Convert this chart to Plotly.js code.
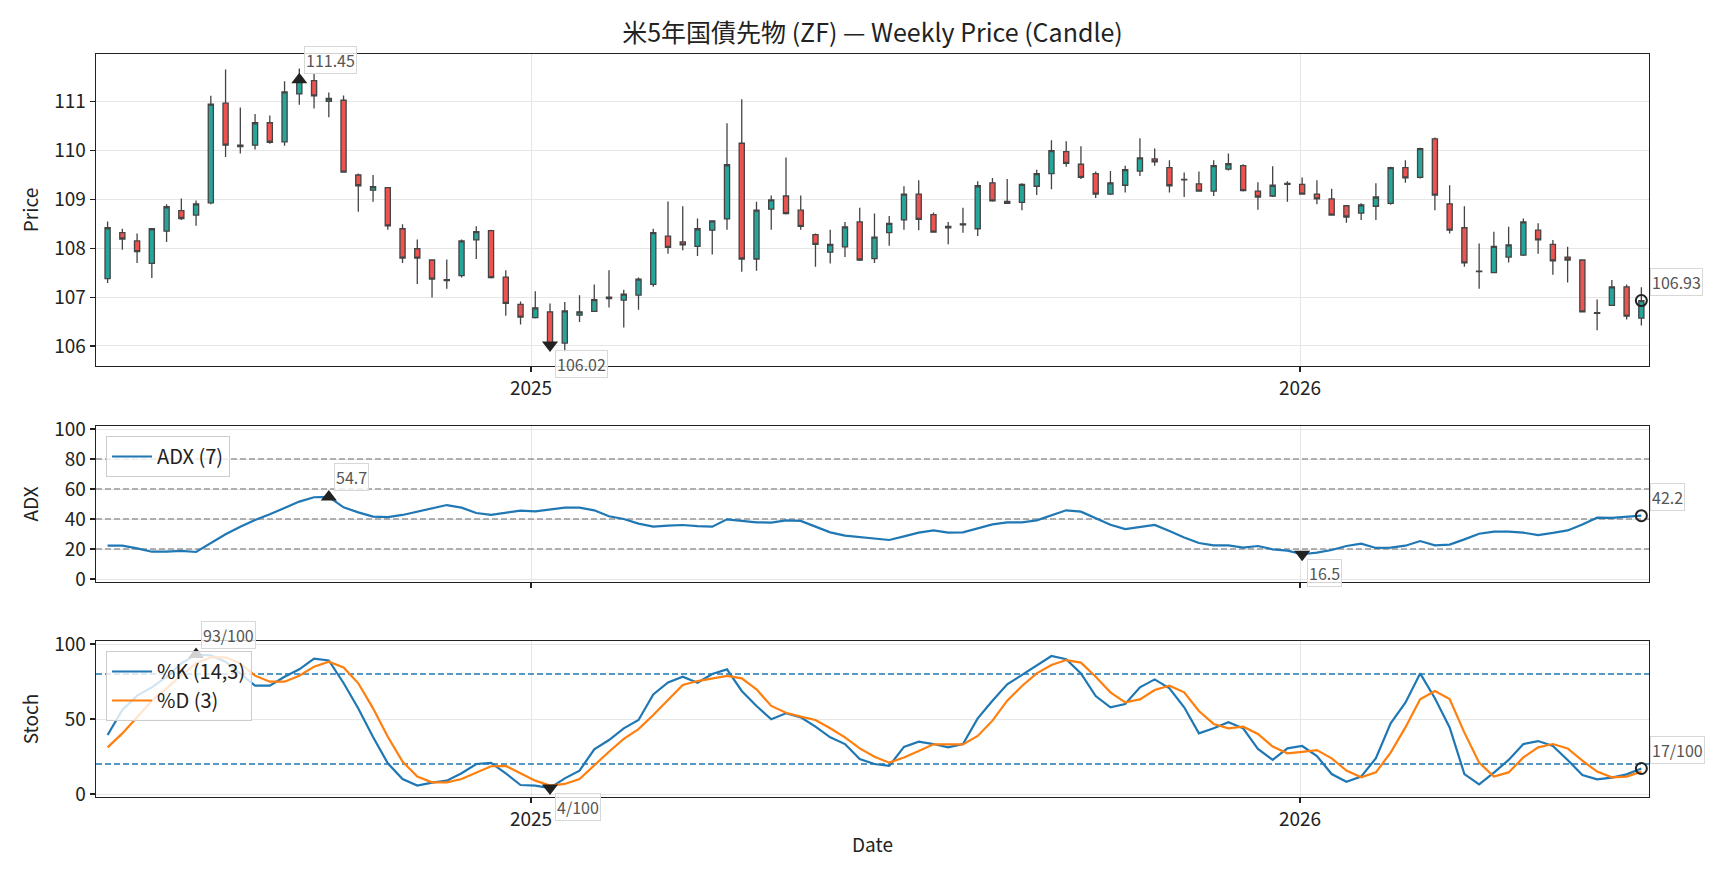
<!DOCTYPE html>
<html><head><meta charset="utf-8">
<script src="https://cdn.plot.ly/plotly-3.0.1.min.js"></script>
<style>html,body{margin:0;padding:0;background:#fff;} #chart{width:1728px;height:878px;}</style>
</head><body><div id="chart"></div>
<script>
const dates = [
'2024-06-14','2024-06-21','2024-06-28','2024-07-05','2024-07-12','2024-07-19','2024-07-26','2024-08-02','2024-08-09','2024-08-16',
'2024-08-23','2024-08-30','2024-09-06','2024-09-13','2024-09-20','2024-09-27','2024-10-04','2024-10-11','2024-10-18','2024-10-25',
'2024-11-01','2024-11-08','2024-11-15','2024-11-22','2024-11-29','2024-12-06','2024-12-13','2024-12-20','2024-12-27',
'2025-01-03','2025-01-10','2025-01-17','2025-01-24','2025-01-31','2025-02-07','2025-02-14','2025-02-21','2025-02-28','2025-03-07',
'2025-03-14','2025-03-21','2025-03-28','2025-04-04','2025-04-11','2025-04-18','2025-04-25','2025-05-02','2025-05-09','2025-05-16',
'2025-05-23','2025-05-30','2025-06-06','2025-06-13','2025-06-20','2025-06-27','2025-07-04','2025-07-11','2025-07-18','2025-07-25',
'2025-08-01','2025-08-08','2025-08-15','2025-08-22','2025-08-29','2025-09-05','2025-09-12','2025-09-19','2025-09-26','2025-10-03',
'2025-10-10','2025-10-17','2025-10-24','2025-10-31','2025-11-07','2025-11-14','2025-11-21','2025-11-28','2025-12-05','2025-12-12',
'2025-12-19','2025-12-26',
'2026-01-02','2026-01-09','2026-01-16','2026-01-23','2026-01-30','2026-02-06','2026-02-13','2026-02-20','2026-02-27','2026-03-06',
'2026-03-13','2026-03-20','2026-03-27','2026-04-03','2026-04-10','2026-04-17','2026-04-24','2026-05-01','2026-05-08','2026-05-15',
'2026-05-22','2026-05-29','2026-06-05','2026-06-12'];

const openP = [107.38,108.32,108.15,107.69,108.35,108.77,108.68,108.93,110.97,110.11,
 110.11,110.57,110.18,111.16,111.43,111.01,111.03,109.50,109.19,109.24,
 108.40,107.99,107.76,107.34,107.44,108.17,108.36,107.41,106.85,106.58,
 106.70,106.06,106.63,106.71,106.97,106.94,107.04,107.26,108.25,108.13,
 108.04,108.37,108.60,110.15,107.78,108.80,109.07,108.78,108.28,107.92,
 108.03,108.54,107.79,108.32,108.58,109.11,108.69,108.42,108.50,108.40,
 109.34,108.96,108.94,109.27,109.53,109.98,109.72,109.53,109.11,109.29,
 109.58,109.83,109.65,109.41,109.32,109.17,109.62,109.69,109.17,109.07,
 109.31,109.31,109.11,109.01,108.87,108.72,108.86,108.92,109.65,109.45,
 110.24,108.91,108.42,107.53,107.50,107.82,107.86,108.37,108.08,107.82,
 107.76,106.67,106.83,107.21,106.57];
const highP = [108.55,108.40,108.30,108.41,108.90,109.02,108.98,111.12,111.66,110.88,
 110.75,110.72,111.42,111.68,111.57,111.19,111.13,109.53,109.50,109.25,
 108.49,108.18,107.77,107.77,108.18,108.45,108.38,107.55,106.91,107.12,
 106.87,106.90,107.04,107.26,107.55,107.15,107.40,108.40,108.96,108.86,
 108.61,108.57,110.56,111.05,108.95,109.08,109.86,109.08,108.30,108.38,
 108.54,108.83,108.71,108.66,109.27,109.39,108.73,108.54,108.83,109.37,
 109.44,109.42,109.33,109.61,110.21,110.19,110.09,109.57,109.58,109.69,
 110.25,110.04,109.80,109.55,109.57,109.80,109.94,109.72,109.35,109.68,
 109.37,109.45,109.39,109.22,108.88,108.92,109.33,109.67,109.80,110.06,
 110.27,109.29,108.86,108.10,108.34,108.44,108.61,108.51,108.17,108.03,
 107.77,106.95,107.35,107.26,107.20];
const lowP = [107.29,107.97,107.70,107.39,108.13,108.58,108.46,108.90,109.87,109.94,
 110.02,110.14,110.10,110.94,110.86,110.68,109.55,108.75,108.95,108.38,
 107.70,107.27,106.99,107.17,107.40,107.78,107.38,106.62,106.44,106.56,
 105.97,105.88,106.49,106.70,106.79,106.38,106.74,107.21,107.89,107.96,
 107.84,107.87,108.38,107.52,107.54,108.38,108.69,108.38,107.62,107.69,
 107.82,107.74,107.70,108.05,108.38,108.37,108.32,108.08,108.32,108.25,
 108.95,108.92,108.78,109.09,109.21,109.67,109.42,109.03,109.09,109.14,
 109.48,109.69,109.14,109.05,109.16,109.07,109.59,109.16,108.79,109.05,
 108.95,109.10,108.90,108.67,108.52,108.58,108.58,108.89,109.34,109.43,
 108.78,108.30,107.62,107.17,107.49,107.71,107.84,107.89,107.46,107.30,
 106.69,106.32,106.82,106.54,106.42];
const closeP = [108.42,108.19,107.93,108.40,108.85,108.61,108.91,110.95,110.11,110.08,
 110.57,110.17,111.20,111.45,111.12,111.07,109.56,109.28,109.26,108.46,
 107.80,107.80,107.37,107.36,108.15,108.34,107.40,106.87,106.59,106.78,
 106.02,106.72,106.70,106.95,107.00,107.06,107.37,108.32,108.02,108.07,
 108.40,108.56,109.71,107.78,108.78,108.99,108.71,108.45,108.08,108.08,
 108.44,107.76,108.23,108.51,109.11,108.59,108.33,108.45,108.48,109.28,
 108.97,108.92,109.31,109.53,110.00,109.74,109.45,109.11,109.34,109.61,
 109.85,109.77,109.28,109.40,109.17,109.69,109.73,109.18,109.05,109.29,
 109.33,109.11,109.01,108.68,108.64,108.89,109.05,109.65,109.44,110.04,
 109.09,108.37,107.70,107.52,108.04,108.07,108.54,108.17,107.74,107.76,
 106.70,106.68,107.21,106.61,106.93];

const adx = [22.2,22.2,20.4,18.2,18.2,18.7,18.0,23.8,29.8,34.9,
 39.3,43.1,47.6,51.6,54.5,54.7,47.8,44.4,41.6,41.3,
 42.7,44.9,47.3,49.3,47.6,44.0,42.7,44.0,45.6,45.1,
 46.2,47.6,47.6,45.8,41.8,40.0,36.9,34.9,35.6,36.0,
 35.3,34.9,39.8,38.7,37.8,37.6,39.1,38.7,34.9,31.1,
 28.9,28.0,27.1,26.0,28.4,30.9,32.4,30.9,31.1,33.8,
 36.4,37.8,37.8,39.1,42.7,45.8,44.9,40.4,36.2,33.3,
 34.7,36.0,32.0,27.6,24.0,22.4,22.4,20.9,22.0,19.8,
 18.9,16.5,17.6,19.3,22.0,23.6,20.7,20.9,22.2,25.3,
 22.4,22.9,26.4,30.2,31.6,31.6,30.9,29.3,30.7,32.4,
 36.4,40.9,40.7,41.3,42.2];

const stochK = [39.3,56.0,65.6,71.1,78.2,87.1,93.0,92.4,88.2,80.4,
 72.2,72.2,78.2,83.1,90.2,89.0,74.0,57.0,38.0,20.5,
 10.0,5.6,7.6,8.9,13.8,20.0,20.8,13.8,6.0,5.6,
 4.0,10.4,15.6,29.8,36.0,43.8,49.3,66.4,74.4,78.2,
 74.2,80.0,83.1,68.7,58.7,49.8,53.8,51.1,44.9,37.8,
 33.3,23.3,20.0,18.7,31.4,34.9,33.3,31.1,33.3,50.4,
 62.2,73.1,79.3,86.0,92.0,89.8,80.4,65.3,57.8,60.0,
 71.1,76.4,70.4,57.8,40.4,43.8,47.8,43.8,30.0,22.7,
 30.4,32.0,25.3,13.3,8.2,11.6,23.8,47.1,60.9,80.4,
 63.8,44.4,13.3,6.4,14.2,22.7,33.3,35.3,32.0,22.7,
 12.7,9.8,10.9,13.1,17.0];
const stochD = [31.1,40.4,51.1,62.2,70.4,79.3,87.1,91.1,91.1,87.1,
 78.9,74.9,74.9,78.9,84.9,88.2,84.4,73.8,57.1,38.2,
 21.6,11.6,7.8,7.8,10.0,14.5,18.5,18.7,13.8,8.9,
 5.6,6.7,10.0,19.3,28.2,36.7,43.3,52.7,62.7,72.7,
 75.3,76.9,78.7,77.1,69.8,58.7,54.2,51.6,49.3,43.8,
 37.8,30.4,24.9,20.9,24.3,28.7,33.1,33.1,33.1,38.7,
 48.9,62.2,72.0,80.4,86.0,89.3,87.6,78.2,67.8,61.1,
 63.1,69.3,72.2,67.8,55.3,46.7,43.8,44.9,40.0,31.6,
 27.1,28.1,29.3,23.8,15.6,11.1,14.4,27.6,44.4,63.1,
 68.7,63.3,40.9,20.9,11.6,14.4,24.4,31.1,33.3,30.4,
 22.2,14.9,11.1,11.6,14.9];

const yearTickVals = ['2025-01-01','2026-01-01'];
const yearTickText = ['2025','2026'];
const priceTicks = [106,107,108,109,110,111];
const adxTicks = [0,20,40,60,80,100];
const adxLevels = [20,40,60,80];
const stochTicks = [0,50,100];
const stochLevels = [20,80];

const FONT = '"Noto Sans CJK JP", "Noto Sans", sans-serif';
const xRange = ['2024-06-08 12:00','2026-06-15 15:00'];
const xdom = [96/1728, 1649/1728];
const TICK = 19, AXT = 19;

function argmax(a){let k=0;for(let i=1;i<a.length;i++) if(a[i]>a[k]) k=i;return k;}
function argmin(a){let k=0;for(let i=1;i<a.length;i++) if(a[i]<a[k]) k=i;return k;}

const baseAxis = {showline:true, mirror:true, linecolor:'#222', linewidth:1.3, ticks:'outside', ticklen:5,
  tickwidth:1.2, tickcolor:'#222', zeroline:false, showgrid:true, gridcolor:'#e6e6e6', gridwidth:1,
  tickfont:{size:TICK, color:'#222', family:FONT}};
function xAxis(extra){return Object.assign({}, baseAxis, {type:'date', range:xRange, domain:xdom, tickmode:'array',
  tickvals:yearTickVals, ticktext:yearTickText, rangeslider:{visible:false}}, extra);}
function yAxis(extra){return Object.assign({}, baseAxis, {tickmode:'array'}, extra);}
function axTitle(t, s){return {text:t, font:{size:AXT, color:'#222', family:FONT}, standoff:s};}

const traces = [];
traces.push({type:'candlestick', x:dates, open:openP, high:highP, low:lowP, close:closeP, xaxis:'x', yaxis:'y',
  increasing:{fillcolor:'#26a69a', line:{color:'#444', width:1.3}},
  decreasing:{fillcolor:'#ef5350', line:{color:'#444', width:1.3}},
  whiskerwidth:0, showlegend:false, hoverinfo:'skip'});

function markerTrace(xa, ya, idx, vals, symbol){
  const open = symbol==='circle-open';
  return {type:'scatter', mode:'markers', x:[dates[idx]], y:[vals[idx]], xaxis:xa, yaxis:ya, showlegend:false, hoverinfo:'skip',
    marker:{symbol:symbol, size: open?11:14, color:'#222', line:{color:'#222', width: open?2:0}}};
}
function levelTrace(xa, ya, v, color){
  return {type:'scatter', mode:'lines', x:xRange, y:[v, v], xaxis:xa, yaxis:ya, showlegend:false, hoverinfo:'skip',
    line:{color:color, width:1.5, dash:'6px,3px'}};
}
const pMax = argmax(closeP), pMin = argmin(closeP), pLast = closeP.length-1;
traces.push(markerTrace('x','y',pMax,closeP,'triangle-up'));
traces.push(markerTrace('x','y',pMin,closeP,'triangle-down'));
traces.push(markerTrace('x','y',pLast,closeP,'circle-open'));

adxLevels.forEach(v=>traces.push(levelTrace('x2','y2',v,'#999999')));
traces.push({type:'scatter', mode:'lines', x:dates, y:adx, xaxis:'x2', yaxis:'y2', name:'ADX (7)', legend:'legend',
  line:{color:'#1f77b4', width:2.2}, hoverinfo:'skip'});
const aMax = argmax(adx), aMin = argmin(adx), aLast = adx.length-1;
traces.push(markerTrace('x2','y2',aMax,adx,'triangle-up'));
traces.push(markerTrace('x2','y2',aMin,adx,'triangle-down'));
traces.push(markerTrace('x2','y2',aLast,adx,'circle-open'));

stochLevels.forEach(v=>traces.push(levelTrace('x3','y3',v,'#1f77b4')));
traces.push({type:'scatter', mode:'lines', x:dates, y:stochK, xaxis:'x3', yaxis:'y3', name:'%K (14,3)', legend:'legend2',
  line:{color:'#1f77b4', width:2.2}, hoverinfo:'skip'});
traces.push({type:'scatter', mode:'lines', x:dates, y:stochD, xaxis:'x3', yaxis:'y3', name:'%D (3)', legend:'legend2',
  line:{color:'#ff7f0e', width:2.2}, hoverinfo:'skip'});
const kMax = argmax(stochK), kMin = argmin(stochK), kLast = stochK.length-1;
traces.push(markerTrace('x3','y3',kMax,stochK,'triangle-up'));
traces.push(markerTrace('x3','y3',kMin,stochK,'triangle-down'));
traces.push(markerTrace('x3','y3',kLast,stochK,'circle-open'));

function label(xa, ya, idx, vals, text, kind){
  const a = {xref:xa, yref:ya, x:dates[idx], y:vals[idx], text:text, showarrow:false, xanchor:'left',
    font:{size:16, color:'#555', family:FONT}, bgcolor:'rgba(255,255,255,0.8)', bordercolor:'#d8d8d8', borderwidth:1, borderpad:1};
  if(kind==='max'){a.yanchor='bottom'; a.xshift=5; a.yshift=6;}
  else if(kind==='min'){a.yanchor='top'; a.xshift=5; a.yshift=-5;}
  else {a.yanchor='bottom'; a.xshift=9; a.yshift=5;}
  return a;
}
const annotations = [
  label('x','y',pMax,closeP,closeP[pMax].toFixed(2),'max'),
  label('x','y',pMin,closeP,closeP[pMin].toFixed(2),'min'),
  label('x','y',pLast,closeP,closeP[pLast].toFixed(2),'last'),
  label('x2','y2',aMax,adx,adx[aMax].toFixed(1),'max'),
  label('x2','y2',aMin,adx,adx[aMin].toFixed(1),'min'),
  label('x2','y2',aLast,adx,adx[aLast].toFixed(1),'last'),
  label('x3','y3',kMax,stochK,Math.round(stochK[kMax])+'/100','max'),
  label('x3','y3',kMin,stochK,Math.round(stochK[kMin])+'/100','min'),
  label('x3','y3',kLast,stochK,Math.round(stochK[kLast])+'/100','last')
];

const legendStyle = {bgcolor:'rgba(255,255,255,0.8)', bordercolor:'#cccccc', borderwidth:1, xanchor:'left', yanchor:'top',
  font:{size:20, color:'#222', family:FONT}, tracegroupgap:0, itemwidth:40};

const layout = {
  width:1728, height:878, margin:{l:0,r:0,t:0,b:0}, paper_bgcolor:'#fff', plot_bgcolor:'#fff',
  font:{family:FONT, color:'#222'},
  title:{text:'米5年国債先物 (ZF) — Weekly Price (Candle)', x:872.5/1728, xanchor:'center', y:1-33/878, yanchor:'middle',
    font:{size:25, color:'#222', family:FONT}},
  boxgap:0.5,
  xaxis: xAxis({anchor:'y'}),
  yaxis: yAxis({domain:[1-366/878, 1-54/878], range:[105.59,111.977], tickvals:priceTicks, anchor:'x', title:axTitle('Price',10)}),
  xaxis2: xAxis({anchor:'y2', matches:'x', showticklabels:false}),
  yaxis2: yAxis({domain:[1-582/878, 1-426/878], range:[-2,102], tickvals:adxTicks, anchor:'x2', title:axTitle('ADX',10)}),
  xaxis3: xAxis({anchor:'y3', matches:'x', title:axTitle('Date',8)}),
  yaxis3: yAxis({domain:[1-797/878, 1-641/878], range:[-2,102], tickvals:stochTicks, anchor:'x3', title:axTitle('Stoch',10)}),
  legend: Object.assign({}, legendStyle, {x:106/1728, y:1-436/878}),
  legend2: Object.assign({}, legendStyle, {x:106/1728, y:1-651/878}),
  annotations: annotations,
  hovermode:false
};

Plotly.newPlot('chart', traces, layout, {staticPlot:true, displayModeBar:false});
</script>
</body></html>
